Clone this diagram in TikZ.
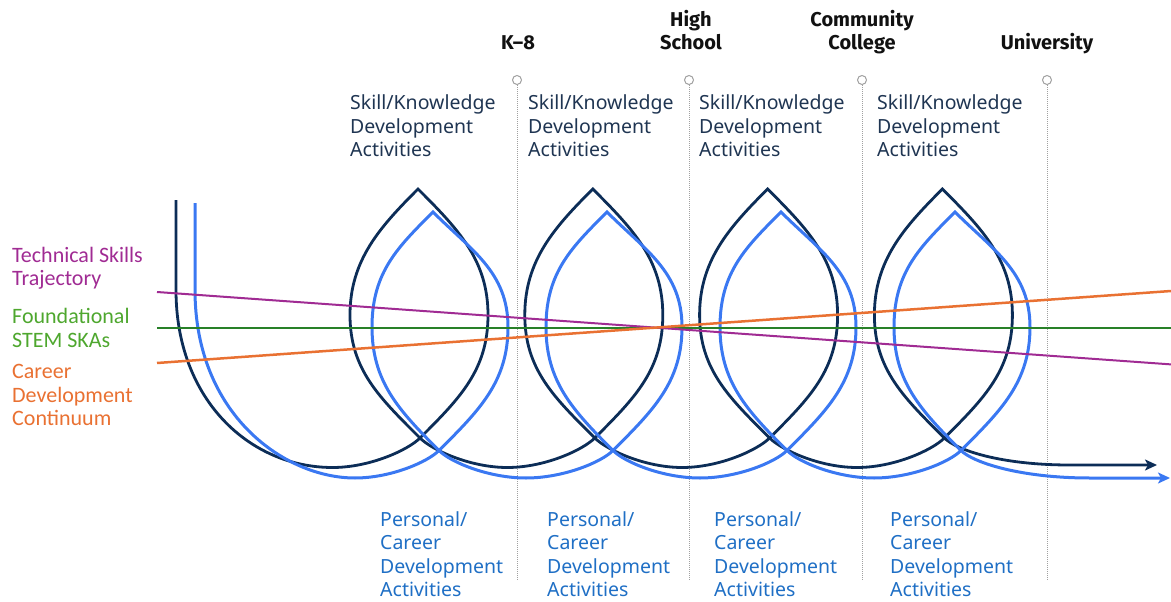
\documentclass[tikz,border=0pt]{standalone}
\usepackage{fontspec}
\setmainfont{Noto Sans}
\newfontfamily\lblfont{Carlito}
\newfontfamily\hdfont{Fira Sans}
\usetikzlibrary{arrows.meta}
\definecolor{navyc}{HTML}{0C2D57}
\definecolor{bluec}{HTML}{3A78F2}
\definecolor{purpc}{HTML}{A02B93}
\definecolor{orangec}{HTML}{E97132}
\definecolor{foundgreen}{RGB}{40,128,40}
\definecolor{greent}{HTML}{4EA72E}
\definecolor{skc}{HTML}{1F3552}
\definecolor{pcc}{HTML}{1F6FC5}
\definecolor{hdc}{HTML}{111111}
\definecolor{guidec}{HTML}{A0A0A0}
% dark loop: crossing (c,438), apex (c-2,189), left (c-70,315), right (c+68,315)
\newcommand\dLoop[1]{.. controls ({#1+40},398) and ({#1+68},370) .. ({#1+68},315) .. controls ({#1+68},260) and ({#1+38},229) .. ({#1-2},189) .. controls ({#1-40},227) and ({#1-70},260) .. ({#1-70},315) .. controls ({#1-70},370) and ({#1-40},398) .. (#1,438)}
\newcommand\dBot[1]{.. controls ({#1+12},450) and ({#1+50},467.5) .. ({#1+87.4},467.5) .. controls ({#1+124.8},467.5) and ({#1+162.8},450) .. ({#1+174.8},438)}
% blue loop: crossing (c,450.5), apex (c-6,212), left (c-67,327), right (c+69,327)
\newcommand\bLoop[1]{.. controls ({#1+40},410.5) and ({#1+69},382) .. ({#1+69},327) .. controls ({#1+69},272) and ({#1+32},250) .. ({#1-6},212) .. controls ({#1-41},247) and ({#1-67},272) .. ({#1-67},327) .. controls ({#1-67},382) and ({#1-40},410.5) .. (#1,450.5)}
\newcommand\bBot[1]{.. controls ({#1+12},462.5) and ({#1+50},478) .. ({#1+87},478) .. controls ({#1+124},478) and ({#1+162},462.5) .. ({#1+174},450.5)}
\begin{document}
\begin{tikzpicture}[x=1pt,y=-1pt,
  guide/.style={draw=guidec,line width=1pt,dash pattern=on 1pt off 1pt},
  pin/.style={circle,draw=guidec,fill=white,line width=1pt,minimum size=9pt,inner sep=0pt},
  sk/.style={anchor=base west,inner sep=0pt,font=\fontsize{19.5}{23.5}\selectfont,text=skc},
  pc/.style={anchor=base west,inner sep=0pt,font=\fontsize{19.5}{23.5}\selectfont,text=pcc},
  hd/.style={anchor=base,inner sep=0pt,font=\hdfont\bfseries\fontsize{20}{23}\selectfont,text=hdc},
  lbl/.style={anchor=base west,inner sep=0pt,font=\lblfont\fontsize{22}{23.5}\selectfont},
  navyline/.style={draw=navyc,line width=2.8pt},
  blueline/.style={draw=bluec,line width=3pt},
  tip/.style={-{Stealth[length=12pt,width=11pt,inset=3pt]}}
]
\useasboundingbox (0,0) rectangle (1171,602);
% guides
\foreach \x/\n in {517/a,689/b,862/c,1047/d}{
  \node[pin] (pin\n) at (\x,80) {};
  \coordinate (gend\n) at (\x,580);
  \draw[guide] (pin\n.south) -- (gend\n);
}
% headers
\node[hd] (hk) at (518,50) {K–8};
\node[hd] (hh1) at (691,27) {High};
\node[hd] (hh2) at (691,50) {School};
\node[hd] (hc1) at (862,27) {Community};
\node[hd] (hc2) at (862,50) {College};
\node[hd] (hu) at (1047,50) {University};
% skill texts
\foreach \x [count=\i] in {350,528,699,877}{
  \node[sk] (ska\i) at (\x,110) {Skill/Knowledge};
  \node[sk] (skb\i) at (\x,133.5) {Development};
  \node[sk] (skc\i) at (\x,157) {Activities};
}
% personal texts
\foreach \x [count=\i] in {380,547,714,890}{
  \node[pc] (pca\i) at (\x,526) {Personal/};
  \node[pc] (pcb\i) at (\x,549.5) {Career};
  \node[pc] (pcc\i) at (\x,573) {Development};
  \node[pc] (pcd\i) at (\x,596.5) {Activities};
}
% left labels
\node[lbl,text=purpc] (t1) at (12,262) {Technical Skills};
\node[lbl,text=purpc] (t2) at (12,285.5) {Trajectory};
\node[lbl,text=greent] (f1) at (12,323) {Foundational};
\node[lbl,text=greent] (f2) at (12,347) {STEM SKAs};
\node[lbl,text=orangec] (c1) at (12,378) {Career};
\node[lbl,text=orangec] (c2) at (12,402) {Development};
\node[lbl,text=orangec] (c3) at (12,425.5) {Continuum};
% curves
\coordinate (dS) at (176,200);
\coordinate (dE) at (1157,465);
\coordinate (bS) at (195,203);
\coordinate (bE) at (1170,478);
\draw[navyline,tip] (dS) -- (176,290) .. controls (176,400) and (250,467.5) .. (332.6,467.5) .. controls (370,467.5) and (408,450) .. (420,438)
  \dLoop{420}\dBot{420}\dLoop{594.8}\dBot{594.8}\dLoop{769.6}\dBot{769.6}\dLoop{944.4}
  .. controls (956.4,450) and (1000,465) .. (1070,465) -- (dE);
\draw[blueline,tip] (bS) -- (195,290) .. controls (195,415) and (285,478) .. (355,478) .. controls (390,478) and (427,462.5) .. (439,450.5)
  \bLoop{439}\bBot{439}\bLoop{613}\bBot{613}\bLoop{787}\bBot{787}\bLoop{961}
  .. controls (973,462.5) and (1020,478) .. (1090,478) -- (bE);
% trajectories
\coordinate (pL) at (157,292);
\coordinate (pR) at (1171,364.4);
\coordinate (gL) at (157,327.5);
\coordinate (gR) at (1171,327.5);
\coordinate (oL) at (157,363);
\coordinate (oR) at (1171,291);
\draw[draw=foundgreen,line width=2pt] (gL) -- (gR);
\draw[draw=purpc,line width=2pt] (pL) -- (pR);
\draw[draw=orangec,line width=2.5pt] (oL) -- (oR);
\end{tikzpicture}
\end{document}
